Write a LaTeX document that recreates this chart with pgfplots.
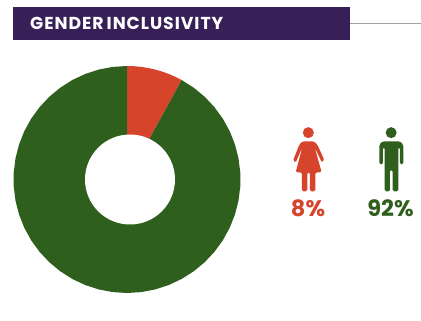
\documentclass[border=0pt]{standalone}
\usepackage{fontspec}
\setmainfont{Poppins}
\newfontfamily\titlefont[LetterSpace=5.5]{Poppins}
\usepackage{pgfplots}
\pgfplotsset{compat=1.18}
\definecolor{bandpurple}{HTML}{371F58}
\definecolor{womenred}{HTML}{D5442B}
\definecolor{mengreen}{HTML}{2F5F1C}
\begin{document}
\begin{tikzpicture}[x=1pt,y=1pt]
\path[use as bounding box] (0,0) rectangle (421,321);
\begin{axis}[
  at={(0pt,0pt)}, anchor=south west,
  scale only axis, width=421pt, height=321pt,
  xmin=-127, xmax=294, ymin=-141.5, ymax=179.5,
  hide axis, clip=false]
% pie segments: share in percent clockwise from the top, radius in px
\addplot[draw=none, fill=womenred, data cs=polar]
  table[x expr={90-3.6*\thisrow{share}}, y=r, row sep=\\] {
  share r\\
  0 113.5\\ 1 113.5\\ 2 113.5\\ 3 113.5\\ 4 113.5\\ 5 113.5\\ 6 113.5\\ 7 113.5\\ 8 113.5\\
  8 0\\
};
\addplot[draw=none, fill=mengreen, data cs=polar]
  table[x expr={90-3.6*\thisrow{share}}, y=r, row sep=\\] {
  share r\\
  8 113.5\\ 10 113.5\\ 12 113.5\\ 14 113.5\\ 16 113.5\\ 18 113.5\\ 20 113.5\\ 22 113.5\\
  24 113.5\\ 26 113.5\\ 28 113.5\\ 30 113.5\\ 32 113.5\\ 34 113.5\\ 36 113.5\\ 38 113.5\\
  40 113.5\\ 42 113.5\\ 44 113.5\\ 46 113.5\\ 48 113.5\\ 50 113.5\\ 52 113.5\\ 54 113.5\\
  56 113.5\\ 58 113.5\\ 60 113.5\\ 62 113.5\\ 64 113.5\\ 66 113.5\\ 68 113.5\\ 70 113.5\\
  72 113.5\\ 74 113.5\\ 76 113.5\\ 78 113.5\\ 80 113.5\\ 82 113.5\\ 84 113.5\\ 86 113.5\\
  88 113.5\\ 90 113.5\\ 92 113.5\\ 94 113.5\\ 96 113.5\\ 98 113.5\\ 100 113.5\\
  100 0\\
};
\end{axis}
% doughnut hole
\fill[white] (130,141.5) circle[radius=45];
% title band and rule
\fill[bandpurple] (13,281) rectangle (350,314);
\draw[gray!75, line width=0.7pt] (350,297.5) -- (421,297.5);
\node[anchor=base west, inner sep=0, text=white, font=\titlefont\bfseries\fontsize{17.3}{19}\selectfont]
  at (30,291) {GENDER\hspace{3pt}INCLUSIVITY};
% woman and man pictograms, percentages beneath
\begin{scope}[shift={(270,211)}, x=0.3333pt, y=-0.3333pt]
  \fill[womenred] (115,68) circle[radius=16.5];
  \fill[womenred, rounded corners=1.5pt]
    (98,94) -- (132,94) -- (142,104) -- (163,150) -- (156,158) -- (134,112) -- (155,187)
    -- (136,187) -- (136,244) -- (120,244) -- (120,187) -- (112,187) -- (112,244) -- (96,244)
    -- (96,187) -- (77,187) -- (97,112) -- (77,158) -- (69,152) -- (88,104) -- cycle;
  \fill[mengreen] (363.5,68) circle[radius=16.5];
  \fill[mengreen, rounded corners=1.5pt]
    (338,94) -- (390,94) -- (400,104) -- (400,163) -- (390,163) -- (390,112) -- (385,112)
    -- (385,244) -- (368,244) -- (368,180) -- (360,180) -- (360,244) -- (344,244)
    -- (344,112) -- (339,112) -- (339,163) -- (328,163) -- (328,104) -- cycle;
\end{scope}
\node[anchor=base, inner sep=0, text=womenred, font=\bfseries\fontsize{22.5}{24}\selectfont] at (308,104) {8\%};
\node[anchor=base, inner sep=0, text=mengreen, font=\bfseries\fontsize{22.5}{24}\selectfont] at (390.5,104) {92\%};
\end{tikzpicture}
\end{document}
